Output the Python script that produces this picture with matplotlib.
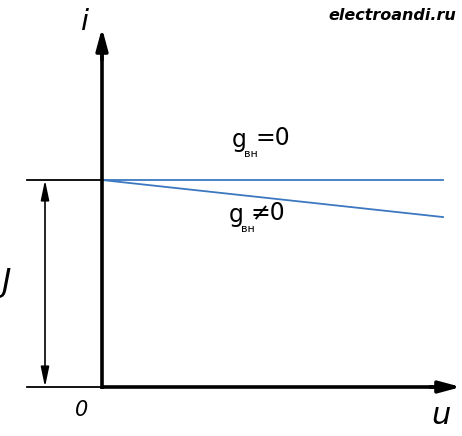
import matplotlib
matplotlib.use("Agg")
import matplotlib.pyplot as plt

# Data (normalized: u in [0, 1], current relative to J)
u_vals = [0.0, 1.0]
i_ideal = [1.0, 1.0]      # g_вн = 0
i_real = [1.0, 0.821]     # g_вн ≠ 0

# pixel mapping helpers: origin at (102, 387); 341 px per unit u, 207 px per unit i
W, H = 462, 436
x0, y0, sx, sy = 102, 387, 341, 207
xlim = (-x0 / sx, (W - x0) / sx)
ylim = ((y0 - H) / sy, y0 / sy)

fig = plt.figure(figsize=(W / 100, H / 100), dpi=100)
ax = fig.add_axes([0, 0, 1, 1])
ax.set_xlim(*xlim)
ax.set_ylim(*ylim)
ax.axis("off")

def px(x):
    return (x - x0) / sx

def py(y):
    return (y0 - y) / sy

blue = "#3c78c0"
ax.plot(u_vals, i_ideal, color=blue, lw=1.3)
ax.plot(u_vals, i_real, color=blue, lw=1.3)

# Axes arrows
ax.plot([0, 0], [py(388.5), py(40)], color="black", lw=2.6, solid_capstyle="butt")
ax.plot([px(100.7), px(446)], [0, 0], color="black", lw=2.6, solid_capstyle="butt")
arrow = dict(arrowstyle="-|>,head_length=1.3,head_width=0.35", color="black", lw=2.6,
             shrinkA=0, shrinkB=0)
ax.annotate("", xy=(0, py(28)), xytext=(0, py(60)), arrowprops=arrow)
ax.annotate("", xy=(px(461), 0), xytext=(px(430), 0), arrowprops=arrow)

# Helper lines on the left
ax.plot([px(27), 0], [1, 1], color="black", lw=1.3)
ax.plot([px(27), 0], [0, 0], color="black", lw=1.3)
darrow = dict(arrowstyle="<|-|>,head_length=1.2,head_width=0.25", color="black", lw=1.2,
              shrinkA=0, shrinkB=0)
ax.annotate("", xy=(px(45), 1), xytext=(px(45), 0), arrowprops=darrow)

# Labels
ax.text(px(85), py(22), "i", fontsize=21, style="italic", ha="center", va="center")
ax.text(px(441), py(415), "u", fontsize=22, style="italic", ha="center", va="center")
ax.text(px(82), py(410), "0", fontsize=15, style="italic", ha="center", va="center")
ax.text(px(6), py(282), "J", fontsize=23, style="italic", ha="center", va="center")
ax.text(px(392), py(16), "electroandi.ru", fontsize=11.5, style="italic", weight="bold",
        ha="center", va="center")

ax.text(px(239), py(140), "g", fontsize=17, ha="center", va="center")
ax.text(px(251), py(154), "вн", fontsize=8, ha="center", va="center")
ax.text(px(273), py(138), "=0", fontsize=17, ha="center", va="center")

ax.text(px(236), py(215), "g", fontsize=17, ha="center", va="center")
ax.text(px(248), py(229), "вн", fontsize=8, ha="center", va="center")
ax.text(px(268), py(213), "≠0", fontsize=17, ha="center", va="center")

fig.savefig("out.png", dpi=100)
